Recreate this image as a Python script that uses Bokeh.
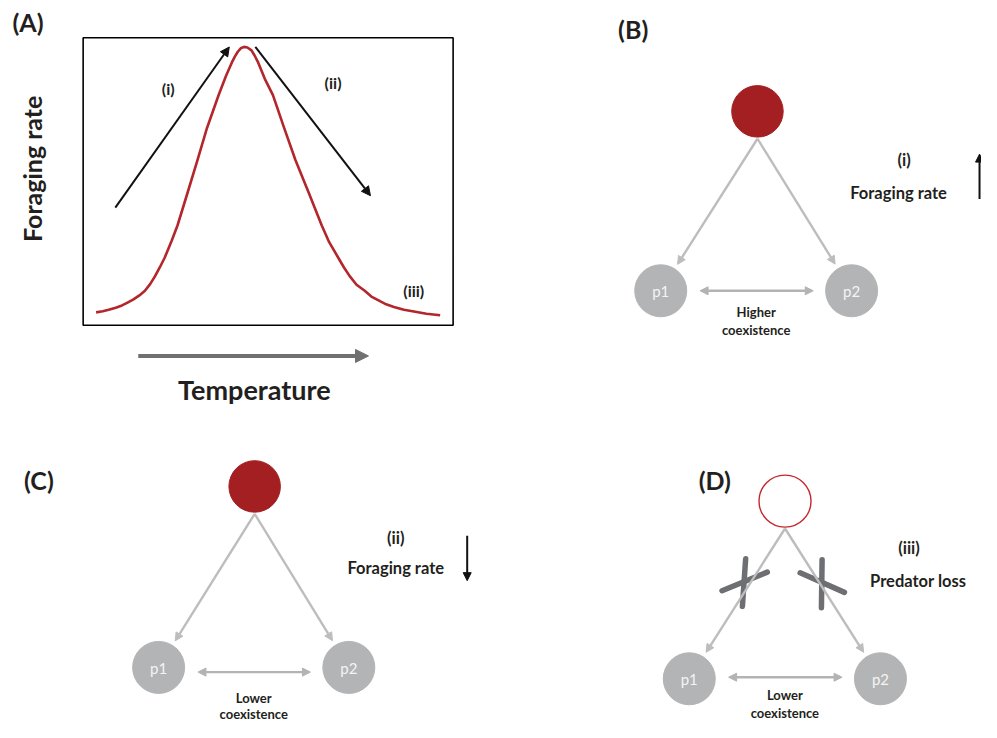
from math import pi, hypot
from bokeh.plotting import figure
from bokeh.models import Range1d, Arrow, NormalHead
from bokeh.core.properties import value
from bokeh.embed import file_html
from bokeh.resources import INLINE

# ---------------- data ----------------
temperature = [3.5, 5.3, 6.9, 8.8, 10.5, 12.0, 13.6, 15.2, 16.7, 18.1, 19.4, 20.7, 22.0,
               23.9, 25.5, 28.2, 30.9, 33.5, 36.6, 38.6, 40.2, 41.0, 41.8, 42.6, 43.5,
               44.4, 45.5, 46.3, 47.3, 49.1, 51.3, 54.3, 57.4, 61.0, 64.5, 66.5, 69.0,
               70.5, 72.1, 73.9, 76.1, 77.9, 80.1, 81.9, 84.0, 86.7, 89.4, 92.8, 96.5]
foraging_rate = [0.045, 0.049, 0.054, 0.061, 0.069, 0.079, 0.090, 0.104, 0.120, 0.143,
                 0.170, 0.201, 0.234, 0.293, 0.347, 0.460, 0.574, 0.687, 0.800, 0.867,
                 0.914, 0.934, 0.951, 0.963, 0.968, 0.966, 0.956, 0.939, 0.914, 0.857,
                 0.800, 0.687, 0.574, 0.460, 0.347, 0.289, 0.234, 0.201, 0.170, 0.141,
                 0.120, 0.100, 0.085, 0.073, 0.064, 0.054, 0.048, 0.040, 0.035]
panel_labels = ["(A)", "(B)", "(C)", "(D)"]
phase_labels = ["(i)", "(ii)", "(iii)"]
scenario_effects = ["Foraging rate", "Foraging rate", "Predator loss"]
coexistence = ["Higher", "Lower", "Lower"]
prey_names = ["p1", "p2"]
x_title = "Temperature"
y_title = "Foraging rate"

# ---------------- layout / style ----------------
FONT = value("Lato")
RED = "#a31f22"
CURVE = "#b3262b"
GREY_NODE = "#b3b4b6"
GREY_LINK = "#bdbdbd"
DARK = "#231f20"

p = figure(width=981, height=722, x_range=Range1d(0, 997), y_range=Range1d(738, 0),
           output_backend="svg", toolbar_location=None, min_border=0)
p.axis.visible = False
p.grid.visible = False
p.outline_line_color = None
p.background_fill_color = "white"
p.border_fill_color = "white"

def txt(x, y, s, size, style="bold", color=DARK, angle=0.0, align="center"):
    p.text(x=[x], y=[y], text=[s], text_font=FONT, text_font_size=f"{size}px",
           text_font_style=style, text_color=color, angle=angle,
           text_align=align, text_baseline="middle")

# ---------------- panel A ----------------
bx0, bx1, by0, by1 = 84, 460, 332, 38   # box: temperature 0..100, rate 0..1
p.quad(left=[bx0], right=[bx1], top=[by1], bottom=[by0], fill_color=None,
       line_color="black", line_width=1.6)
cx = [bx0 + t / 100 * (bx1 - bx0) for t in temperature]
cy = [by0 + r * (by1 - by0) for r in foraging_rate]
p.line(cx, cy, line_color=CURVE, line_width=2.6, line_join="round")

for (xs, ys, xe, ye) in [(116.7, 211.7, 232.5, 47.5), (259, 47.3, 376, 199.5)]:
    p.add_layout(Arrow(x_start=xs, y_start=ys, x_end=xe, y_end=ye,
                       line_color="#111111", line_width=2,
                       end=NormalHead(size=9, fill_color="#111111", line_color="#111111")))
txt(170.5, 90, phase_labels[0], 16)
txt(338, 83.5, phase_labels[1], 16)
txt(420, 296.5, phase_labels[2], 16)

p.add_layout(Arrow(x_start=140, y_start=363.3, x_end=374, y_end=363.3,
                   line_color="#707070", line_width=4,
                   end=NormalHead(size=13, fill_color="#707070", line_color="#707070")))
txt(258, 398, x_title, 27)
txt(32, 172, y_title, 25, angle=pi / 2)

txt(28, 22, panel_labels[0], 25)
txt(643, 29, panel_labels[1], 25)
txt(39, 490, panel_labels[2], 25)
txt(726, 490, panel_labels[3], 25)

# ---------------- panels B, C, D (food webs) ----------------
webs = [
    dict(pred=(769.3, 113.3), p1=(671, 296.7), p2=(865, 296.7), arr_y=296.7,
         t1=318.5, t2=336.5, filled=True),
    dict(pred=(258.3, 496.7), p1=(160.7, 681.7), p2=(354, 681.7), arr_y=686.5,
         t1=713.3, t2=729.3, filled=True),
    dict(pred=(797.3, 511.7), p1=(700, 693.3), p2=(894.3, 693.3), arr_y=691.7,
         t1=710, t2=728.3, filled=False),
]
R = 26
for i, w in enumerate(webs):
    px, py = w["pred"]
    sx, sy = px, py + R + 2
    for key in ("p1", "p2"):
        qx, qy = w[key]
        dx, dy = sx - qx, sy - qy
        L = hypot(dx, dy)
        ex, ey = qx + dx / L * (R + 6), qy + dy / L * (R + 6)
        p.add_layout(Arrow(x_start=sx, y_start=sy, x_end=ex, y_end=ey,
                           line_color=GREY_LINK, line_width=2.4,
                           end=NormalHead(size=8, fill_color=GREY_LINK, line_color=GREY_LINK)))
    if w["filled"]:
        p.scatter([px], [py], size=2 * R - 0.5, fill_color=RED, line_color=RED)
    else:
        p.scatter([px], [py], size=2 * R, fill_color="white", line_color="#c4262d",
                  line_width=1.4)
    for k, key in enumerate(("p1", "p2")):
        qx, qy = w[key]
        p.scatter([qx], [qy], size=2 * R, fill_color=GREY_NODE, line_color=GREY_NODE)
        txt(qx, qy + 0.5, prey_names[k], 15, style="normal", color="#f4f4f4")
    ay = w["arr_y"]
    p.add_layout(Arrow(x_start=w["p1"][0] + 40, y_start=ay, x_end=w["p2"][0] - 39, y_end=ay,
                       line_color="#b3b3b3", line_width=2.4,
                       start=NormalHead(size=8, fill_color="#b3b3b3", line_color="#b3b3b3"),
                       end=NormalHead(size=8, fill_color="#b3b3b3", line_color="#b3b3b3")))
    mx = (w["p1"][0] + w["p2"][0]) / 2
    txt(mx, w["t1"], coexistence[i], 13)
    txt(mx, w["t2"], "coexistence", 13)

# scenario labels
txt(918.3, 163, phase_labels[0], 16.5)
txt(912.7, 196.5, scenario_effects[0], 16.5)
p.add_layout(Arrow(x_start=995, y_start=203, x_end=995, y_end=157,
                   line_color="#111111", line_width=2,
                   end=NormalHead(size=8, fill_color="#111111", line_color="#111111")))

txt(401.7, 549.3, phase_labels[1], 16.5)
txt(401.7, 580, scenario_effects[1], 16.5)
p.add_layout(Arrow(x_start=474.3, y_start=547, x_end=474.3, y_end=593,
                   line_color="#111111", line_width=2,
                   end=NormalHead(size=8, fill_color="#111111", line_color="#111111")))

txt(923.3, 560, phase_labels[2], 16.5)
txt(932.7, 593, scenario_effects[2], 16.5)

# crosses over the links in panel D
p.segment(x0=[733.3, 757.3, 812.7, 835.0], y0=[603.3, 570.7, 585.0, 571.7],
          x1=[779.3, 754.0, 857.7, 834.3], y1=[584.3, 619.3, 605.0, 620.7],
          line_color="#6e6f72", line_width=5.5, line_cap="round")

open("out.html", "w").write(file_html(p, INLINE))
